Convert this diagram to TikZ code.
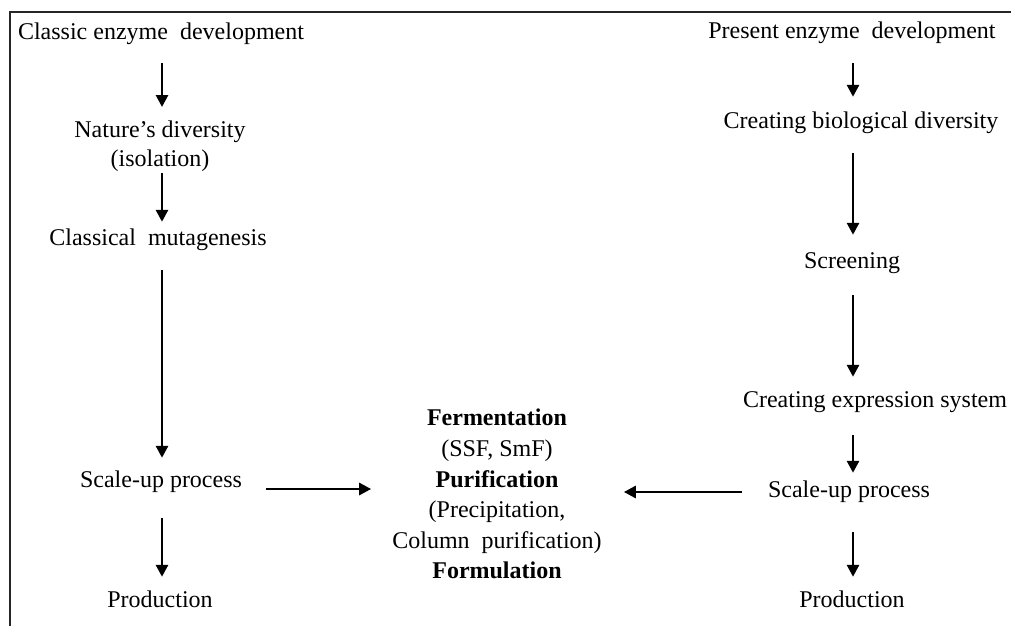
\documentclass[tikz,border=0pt]{standalone}
\usepackage{fontspec}
\setmainfont{Liberation Serif}
\usetikzlibrary{arrows.meta}
\begin{document}
\begin{tikzpicture}[x=1pt,y=-1pt,
  lbl/.style={inner sep=0pt, font=\fontsize{24}{29}\selectfont,
    text height=17pt, text depth=5pt, anchor=base},
  multi/.style={inner sep=0pt, align=center, anchor=north},
  arr/.style={line width=2.8pt, -{Triangle[length=12pt,width=12pt]}},
  frame/.style={line width=1.6pt, draw=black!85}]
\useasboundingbox (0,0) rectangle (1011,626);
% open frame: top and left edges
\draw[frame] (1011,12) -- (10,12) -- (10,626);

% arrow columns
\coordinate (colL) at (162,0);
\coordinate (colR) at (853,0);

% classic route
\node[lbl] (cls) at (161,40) {Classic enzyme\ \ development};
\node[multi, font=\fontsize{24}{29}\selectfont] (nat) at (160,121) {Nature’s diversity\\(isolation)};
\node[lbl] (cm) at (158,245) {Classical\ \ mutagenesis};
\node[lbl] (lsu) at (161,487) {Scale-up process};
\node[lbl] (lpr) at (160,607) {Production};

% present route
\node[lbl] (pre) at (852,38) {Present enzyme\ \ development};
\node[lbl] (cbd) at (861,128) {Creating biological diversity};
\node[lbl] (scr) at (852,268) {Screening};
\node[lbl] (ces) at (875,407) {Creating expression system};
\node[lbl] (rsu) at (849,497) {Scale-up process};
\node[lbl] (rpr) at (852,607) {Production};

% shared downstream processing
\node[multi, font=\fontsize{24}{30.6}\selectfont] (mid) at (497,409)
  {\textbf{Fermentation}\\(SSF, SmF)\\\textbf{Purification}\\(Precipitation,\\Column\ \ purification)\\\textbf{Formulation}};

% classic route arrows
\draw[arr, shorten <=18pt, shorten >=14pt] (cls.south -| colL) -- (nat.north -| colL);
\draw[arr, shorten <=1pt, shorten >=6pt] (nat.south -| colL) -- (cm.north -| colL);
\draw[arr, shorten <=20pt, shorten >=12pt] (cm.south -| colL) -- (lsu.north -| colL);
\draw[arr, shorten <=26pt, shorten >=13pt] (lsu.south -| colL) -- (lpr.north -| colL);

% present route arrows
\draw[arr, shorten <=20pt, shorten >=14pt] (pre.south -| colR) -- (cbd.north -| colR);
\draw[arr, shorten <=20pt, shorten >=16pt] (cbd.south -| colR) -- (scr.north -| colR);
\draw[arr, shorten <=22pt, shorten >=13pt] (scr.south -| colR) -- (ces.north -| colR);
\draw[arr, shorten <=23pt, shorten >=7pt] (ces.south -| colR) -- (rsu.north -| colR);
\draw[arr, shorten <=30pt, shorten >=13pt] (rsu.south -| colR) -- (rpr.north -| colR);

% both scale-up steps feed the processing block
\draw[arr, shorten <=24pt, shorten >=21pt] ([yshift=-8pt]lsu.east) -- ([yshift=-8pt]lsu.east -| mid.west);
\draw[arr, shorten <=26pt, shorten >=22pt] ([yshift=-1pt]rsu.west) -- ([yshift=-1pt]rsu.west -| mid.east);
\end{tikzpicture}
\end{document}
